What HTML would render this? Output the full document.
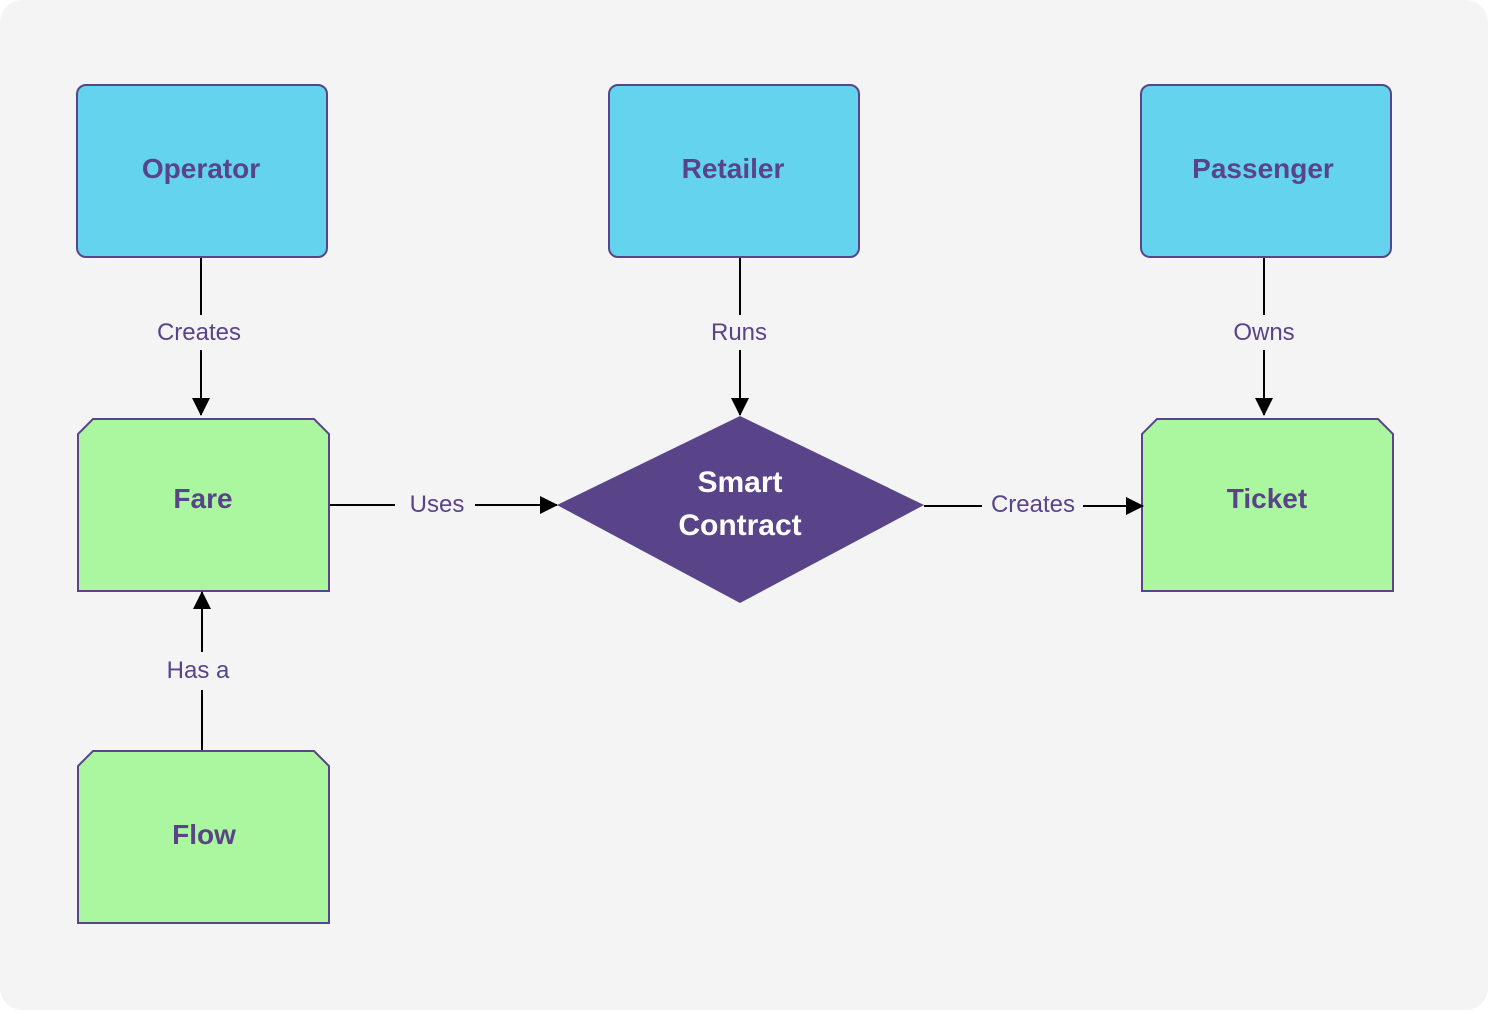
<!DOCTYPE html>
<html><head><meta charset="utf-8"><style>
html,body{margin:0;padding:0;background:#fff;}
svg{display:block;}
text{font-family:"Liberation Sans",sans-serif;fill:#5a4489;text-anchor:middle;}
.b{font-weight:bold;font-size:28px;}
.l{font-size:24px;}
</style></head><body>
<svg width="1488" height="1010" viewBox="0 0 1488 1010" xmlns="http://www.w3.org/2000/svg">
<defs><marker id="a" markerWidth="18" markerHeight="18" refX="17" refY="9" orient="auto" markerUnits="userSpaceOnUse"><path d="M0,0 L18,9 L0,18 Z" fill="#000"/></marker></defs>
<rect x="0" y="0" width="1488" height="1010" rx="22" fill="#f4f4f4"/>
<rect x="77" y="85" width="250" height="172" rx="9" fill="#63d3ee" stroke="#5a4489" stroke-width="2"/>
<rect x="609" y="85" width="250" height="172" rx="9" fill="#63d3ee" stroke="#5a4489" stroke-width="2"/>
<rect x="1141" y="85" width="250" height="172" rx="9" fill="#63d3ee" stroke="#5a4489" stroke-width="2"/>
<text class="b" x="201" y="178">Operator</text>
<text class="b" x="733" y="178">Retailer</text>
<text class="b" x="1263" y="178">Passenger</text>
<path d="M93,419 L314,419 L329,434 L329,591 L78,591 L78,434 Z" fill="#abf7a0" stroke="#5a4489" stroke-width="2"/>
<path d="M93,751 L314,751 L329,766 L329,923 L78,923 L78,766 Z" fill="#abf7a0" stroke="#5a4489" stroke-width="2"/>
<path d="M1157,419 L1378,419 L1393,434 L1393,591 L1142,591 L1142,434 Z" fill="#abf7a0" stroke="#5a4489" stroke-width="2"/>
<text class="b" x="203" y="508">Fare</text>
<text class="b" x="204" y="844">Flow</text>
<text class="b" x="1267" y="508">Ticket</text>
<path d="M740,416 L924,505 L740,603 L557,505 Z" fill="#5a4489"/>
<text class="b" x="740" y="492" style="fill:#fff;font-size:30px">Smart</text>
<text class="b" x="740" y="535" style="fill:#fff;font-size:30px">Contract</text>
<g stroke="#000" stroke-width="2" fill="none">
<line x1="201" y1="258" x2="201" y2="315"/><line x1="201" y1="350" x2="201" y2="415" marker-end="url(#a)"/>
<line x1="740" y1="258" x2="740" y2="315"/><line x1="740" y1="350" x2="740" y2="415" marker-end="url(#a)"/>
<line x1="1264" y1="258" x2="1264" y2="315"/><line x1="1264" y1="350" x2="1264" y2="415" marker-end="url(#a)"/>
<line x1="330" y1="505" x2="395" y2="505"/><line x1="475" y1="505" x2="557" y2="505" marker-end="url(#a)"/>
<line x1="924" y1="506" x2="982" y2="506"/><line x1="1083" y1="506" x2="1143" y2="506" marker-end="url(#a)"/>
<line x1="202" y1="750" x2="202" y2="690"/><line x1="202" y1="652" x2="202" y2="592" marker-end="url(#a)"/>
</g>
<text class="l" x="199" y="340">Creates</text>
<text class="l" x="739" y="340">Runs</text>
<text class="l" x="1264" y="340">Owns</text>
<text class="l" x="437" y="512">Uses</text>
<text class="l" x="1033" y="512">Creates</text>
<text class="l" x="198" y="678">Has a</text>
</svg>
</body></html>
